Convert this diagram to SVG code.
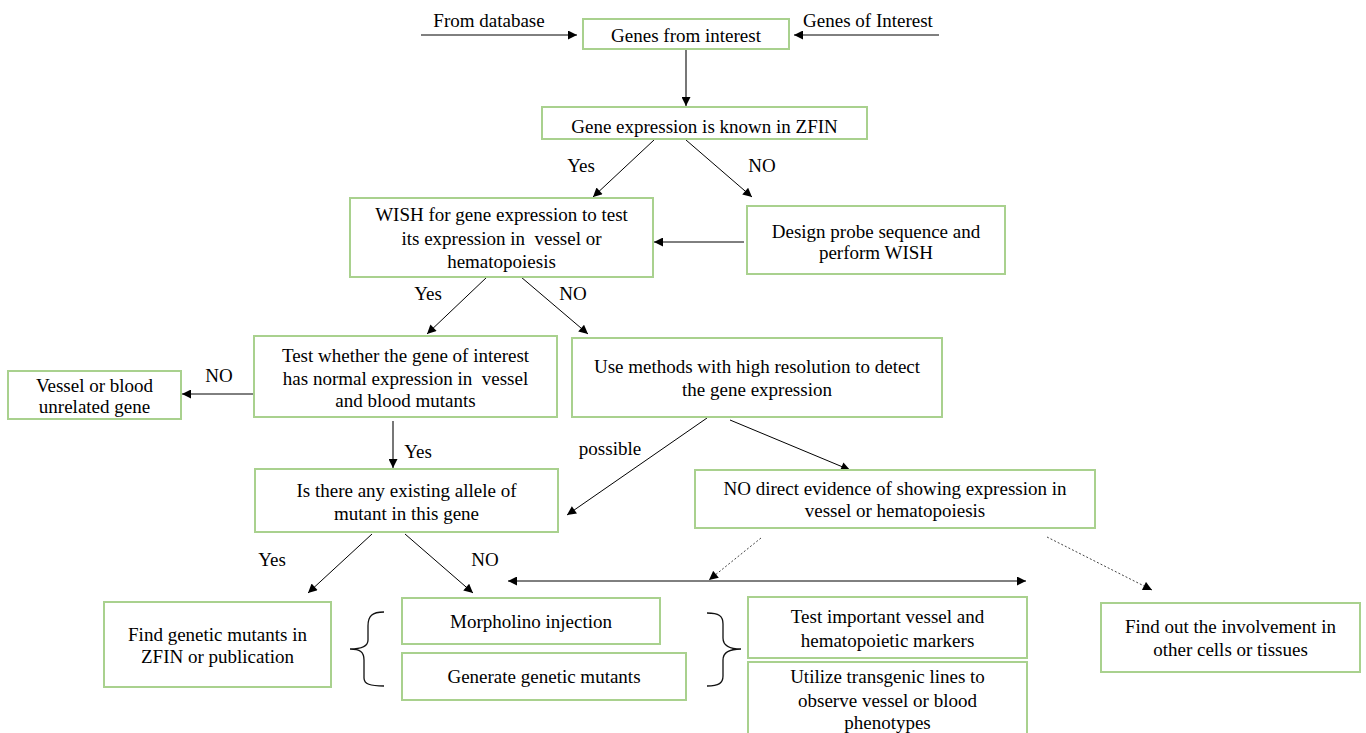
<svg xmlns="http://www.w3.org/2000/svg" width="1366" height="733" viewBox="0 0 1366 733">
<defs>
<style>
.box{fill:#fff;stroke:#a9d18e;stroke-width:2}
.t{font-family:"Liberation Serif","Times New Roman",serif;font-size:19px;fill:#000;text-anchor:middle}
.c{fill:none;stroke:#000;stroke-width:1}
.b{fill:none;stroke:#111;stroke-width:1.3}
.g{fill:none;stroke:#555;stroke-width:1.6}
.d{fill:none;stroke:#444;stroke-width:1;stroke-dasharray:2 2}
</style>
<marker id="ah" viewBox="0 0 10 10" refX="10" refY="5" markerWidth="11" markerHeight="9" markerUnits="userSpaceOnUse" orient="auto-start-reverse"><path d="M0,0 L10,5 L0,10 z" fill="#000"/></marker>
</defs>
<rect width="1366" height="733" fill="#fff"/>

<g id="connectors">
<line class="c" x1="421" y1="35" x2="577" y2="35" marker-end="url(#ah)"/>
<line class="c" x1="939" y1="35" x2="794" y2="35" marker-end="url(#ah)"/>
<line class="g" x1="686" y1="49" x2="686" y2="106" marker-end="url(#ah)"/>
<line class="c" x1="654" y1="140" x2="593" y2="197" marker-end="url(#ah)"/>
<line class="c" x1="686" y1="140" x2="752" y2="197" marker-end="url(#ah)"/>
<line class="c" x1="744" y1="242" x2="654" y2="242" marker-end="url(#ah)"/>
<line class="c" x1="487" y1="277" x2="427" y2="334" marker-end="url(#ah)"/>
<line class="c" x1="521" y1="277" x2="588" y2="334" marker-end="url(#ah)"/>
<line class="c" x1="254" y1="394" x2="182" y2="394" marker-end="url(#ah)"/>
<line class="g" x1="393" y1="421" x2="393" y2="468" marker-end="url(#ah)"/>
<line class="c" x1="707" y1="418" x2="567" y2="515" marker-end="url(#ah)"/>
<line class="c" x1="730" y1="420" x2="850" y2="470" marker-end="url(#ah)"/>
<line class="c" x1="372" y1="534" x2="308" y2="593" marker-end="url(#ah)"/>
<line class="c" x1="405" y1="534" x2="473" y2="593" marker-end="url(#ah)"/>
<line class="c" x1="508" y1="581" x2="1026" y2="581" marker-start="url(#ah)" marker-end="url(#ah)"/>
<line class="d" x1="761" y1="538" x2="709" y2="580" marker-end="url(#ah)"/>
<line class="d" x1="1047" y1="537" x2="1152" y2="590" marker-end="url(#ah)"/>
<path class="b" d="M384,612 C372,612 368,616 368,626 L368,640 C368,646 362,649 350,649 C360,649 364,652 364,660 L364,678 C364,684 370,686 384,686"/>
<path class="b" d="M707,613 C719,613 723,616 723,624 L723,638 C723,645 729,649 741,649 C729,649 723,653 723,660 L723,676 C723,683 719,686 707,686"/>
</g>

<g id="labels">
<text class="t" x="489" y="27">From database</text>
<text class="t" x="868" y="27">Genes of Interest</text>
<text class="t" x="581" y="172">Yes</text>
<text class="t" x="762" y="172">NO</text>
<text class="t" x="428" y="300">Yes</text>
<text class="t" x="573" y="300">NO</text>
<text class="t" x="219" y="382">NO</text>
<text class="t" x="418" y="458">Yes</text>
<text class="t" x="610" y="455">possible</text>
<text class="t" x="272" y="566">Yes</text>
<text class="t" x="485" y="566">NO</text>
</g>

<g id="n1"><rect class="box" x="583" y="19" width="206" height="30"/><text class="t" x="686" y="42">Genes from interest</text></g>
<g id="n2"><rect class="box" x="542" y="107" width="325" height="32"/><text class="t" x="704.5" y="133">Gene expression is known in ZFIN</text></g>
<g id="n3"><rect class="box" x="350" y="198" width="303" height="79"/>
<text class="t" x="501.5" y="221">WISH for gene expression to test</text>
<text class="t" x="501.5" y="245">its expression in&#160; vessel or</text>
<text class="t" x="501.5" y="268">hematopoiesis</text></g>
<g id="n4"><rect class="box" x="747" y="206" width="258" height="68"/>
<text class="t" x="876" y="238">Design probe sequence and</text>
<text class="t" x="876" y="259">perform WISH</text></g>
<g id="n5"><rect class="box" x="254" y="336" width="303" height="81"/>
<text class="t" x="405.5" y="362">Test whether the gene of interest</text>
<text class="t" x="405.5" y="385">has normal expression in&#160; vessel</text>
<text class="t" x="405.5" y="407">and blood mutants</text></g>
<g id="n6"><rect class="box" x="8" y="371" width="173" height="48"/>
<text class="t" x="94.5" y="392">Vessel or blood</text>
<text class="t" x="94.5" y="413">unrelated gene</text></g>
<g id="n7"><rect class="box" x="572" y="338" width="370" height="79"/>
<text class="t" x="757" y="373">Use methods with high resolution to detect</text>
<text class="t" x="757" y="396">the gene expression</text></g>
<g id="n8"><rect class="box" x="255" y="469" width="303" height="63"/>
<text class="t" x="406.5" y="497">Is there any existing allele of</text>
<text class="t" x="406.5" y="520">mutant in this gene</text></g>
<g id="n9"><rect class="box" x="695" y="470" width="400" height="58"/>
<text class="t" x="895" y="495">NO direct evidence of showing expression in</text>
<text class="t" x="895" y="517">vessel or hematopoiesis</text></g>
<g id="n10"><rect class="box" x="104" y="602" width="227" height="85"/>
<text class="t" x="217.5" y="641">Find genetic mutants in</text>
<text class="t" x="217.5" y="663">ZFIN or publication</text></g>
<g id="n11"><rect class="box" x="402" y="598" width="258" height="46"/>
<text class="t" x="531" y="628">Morpholino injection</text></g>
<g id="n12"><rect class="box" x="402" y="653" width="284" height="47"/>
<text class="t" x="544" y="683">Generate genetic mutants</text></g>
<g id="n13"><rect class="box" x="748" y="597" width="279" height="61"/>
<text class="t" x="887.5" y="623">Test important vessel and</text>
<text class="t" x="887.5" y="647">hematopoietic markers</text></g>
<g id="n14"><rect class="box" x="748" y="662" width="279" height="85"/>
<text class="t" x="887.5" y="683">Utilize transgenic lines to</text>
<text class="t" x="887.5" y="707">observe vessel or blood</text>
<text class="t" x="887.5" y="729">phenotypes</text></g>
<g id="n15"><rect class="box" x="1101" y="603" width="259" height="69"/>
<text class="t" x="1230.5" y="633">Find out the involvement in</text>
<text class="t" x="1230.5" y="656">other cells or tissues</text></g>
</svg>
